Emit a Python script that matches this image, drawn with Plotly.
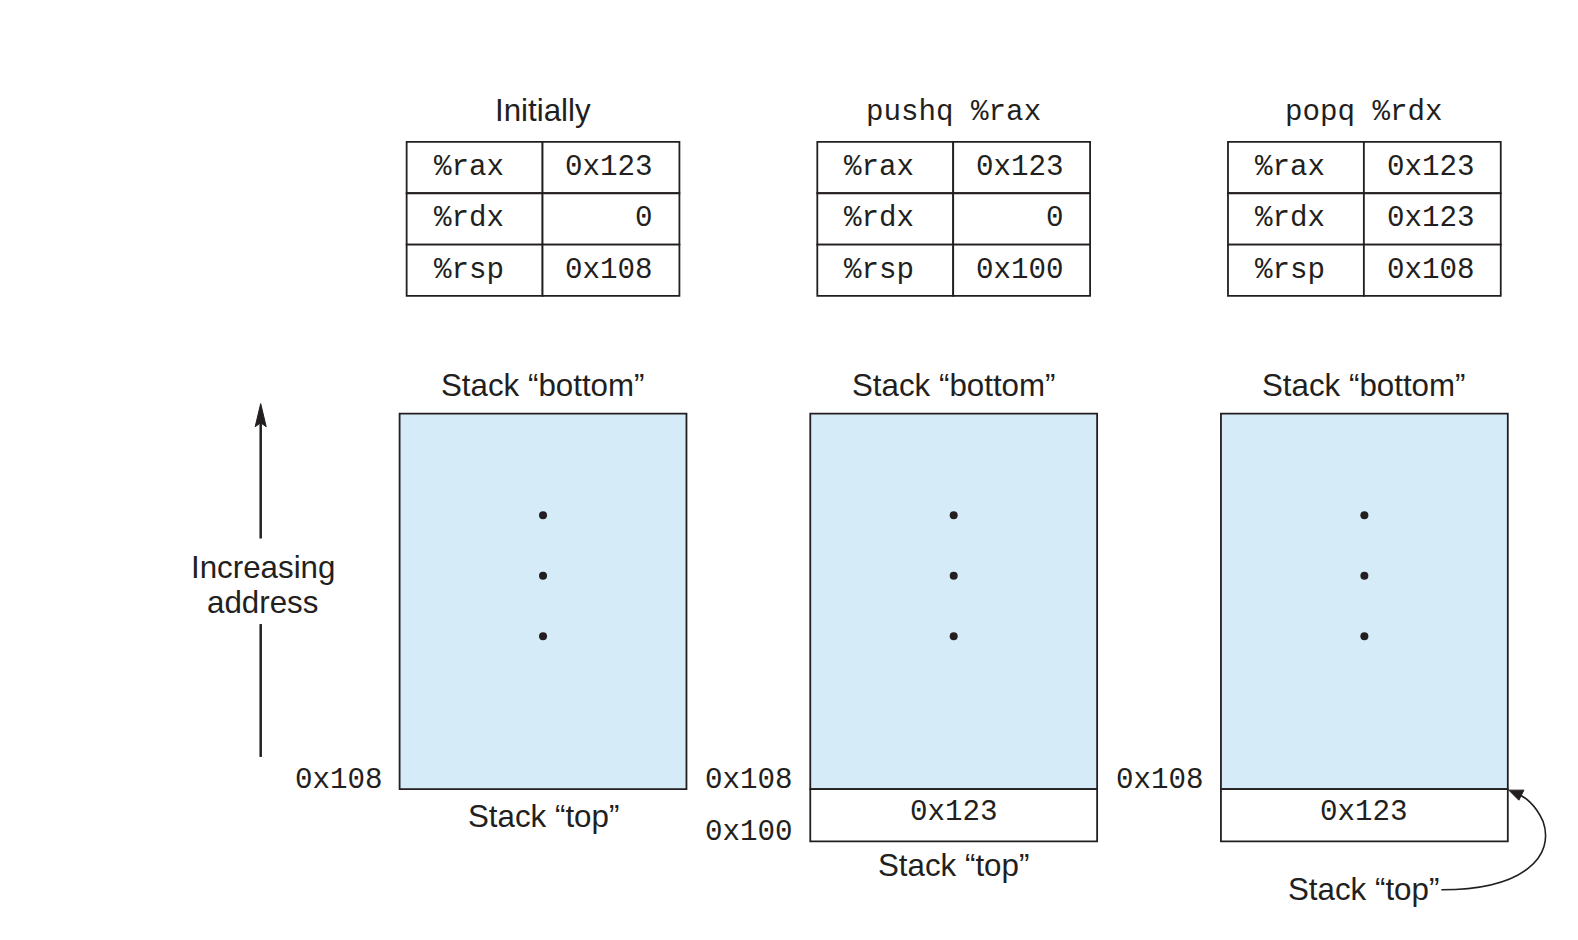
import plotly.graph_objects as go

# ---- data ----
panel_titles = ["Initially", "pushq %rax", "popq %rdx"]
title_is_code = [False, True, True]
registers = ["%rax", "%rdx", "%rsp"]
reg_values = [
    ["0x123", "0", "0x108"],
    ["0x123", "0", "0x100"],
    ["0x123", "0x123", "0x108"],
]
stack_cells = [[], ["0x123"], ["0x123"]]
stack_addrs = [["0x108"], ["0x108", "0x100"], ["0x108"]]
axis_label = ["Increasing", "address"]
bottom_label = "Stack \u201cbottom\u201d"
top_label = "Stack \u201ctop\u201d"

# ---- layout constants ----
PAD = 8
S = 0.9935  # rendering scale compensation
W, H = 1578 - 2 * PAD, 940 - 2 * PAD
INK = "#231f20"
FILL = "#d5ebf8"
SANS = "Liberation Sans, Arial, Helvetica, sans-serif"
MONO = "Liberation Mono, Courier New, monospace"
panel_x0 = [397, 805, 1213]
BOX_W = 285
BOX_TOP, BOX_BOT = 411, 784
CELL_H = 52
TAB_DX, TAB_W, TAB_COL = 7, 271, 135
TAB_TOP, ROW_H = 141, 51
SS = 31.3   # sans size
MS = 29.2   # mono size

fig = go.Figure()
shapes, annos = [], []

def txt(x, y, s, size=SS, font=SANS, xa="center"):
    annos.append(dict(x=x, y=y, text=s, showarrow=False, xanchor=xa, yanchor="middle",
                      font=dict(family=font, size=size, color=INK)))

def rect(x0, y0, x1, y1, fill="white", layer="above"):
    shapes.append(dict(type="rect", x0=x0, y0=y0, x1=x1, y1=y1, fillcolor=fill,
                       line=dict(color=INK, width=1.8), layer=layer))

for p in range(3):
    bx = panel_x0[p]
    cx = bx + BOX_W / 2
    tx = bx + TAB_DX
    if title_is_code[p]:
        txt(cx, 112, panel_titles[p], size=MS, font=MONO)
    else:
        txt(cx, 110, panel_titles[p])
    for r, reg in enumerate(registers):
        y0 = TAB_TOP + r * ROW_H
        rect(tx, y0, tx + TAB_COL, y0 + ROW_H)
        rect(tx + TAB_COL, y0, tx + TAB_W, y0 + ROW_H)
        txt(tx + 25, y0 + ROW_H / 2, reg, size=MS, font=MONO, xa="left")
        txt(tx + TAB_W - 24, y0 + ROW_H / 2, reg_values[p][r], size=MS, font=MONO, xa="right")
    txt(cx, 383, bottom_label)
    rect(bx, BOX_TOP, bx + BOX_W, BOX_BOT, fill=FILL, layer="below")
    for i, c in enumerate(stack_cells[p]):
        y0 = BOX_BOT + i * CELL_H
        rect(bx, y0, bx + BOX_W, y0 + CELL_H)
        txt(cx, y0 + CELL_H / 2 - 3, c, size=MS, font=MONO)
    for i, a in enumerate(stack_addrs[p]):
        txt(bx - 15, BOX_BOT - 9 + i * CELL_H, a, size=MS, font=MONO, xa="right")
    fig.add_trace(go.Scatter(x=[cx] * 3, y=[512, 572, 632], mode="markers",
                             marker=dict(size=8, color=INK), hoverinfo="skip", showlegend=False))

txt(panel_x0[0] + BOX_W / 2, 811, top_label)
txt(panel_x0[1] + BOX_W / 2, 860, top_label)
txt(1355, 884, top_label)

# curved arrow for third panel
shapes.append(dict(type="path",
                   path="M 1432 884 C 1515 884, 1545 850, 1533 816 C 1526 800, 1515 791, 1506 788",
                   line=dict(color=INK, width=1.6), layer="above"))
shapes.append(dict(type="path", path="M 1499 785 L 1514 785 L 1509 795 Z",
                   fillcolor=INK, line=dict(color=INK, width=1), layer="above"))

# Increasing address arrow
shapes.append(dict(type="line", x0=259, y0=752, x1=259, y1=620, line=dict(color=INK, width=2.5)))
shapes.append(dict(type="line", x0=259, y0=535, x1=259, y1=418, line=dict(color=INK, width=2.5)))
shapes.append(dict(type="path", path="M 259 401 L 253.5 424 L 259 420 L 264.5 424 Z",
                   fillcolor=INK, line=dict(color=INK, width=1)))
txt(261, 564, axis_label[0])
txt(261, 599, axis_label[1])

fig.update_layout(
    width=W, height=H, margin=dict(l=0, r=0, t=0, b=0),
    paper_bgcolor="white", plot_bgcolor="white",
    xaxis=dict(range=[PAD * S, (PAD + W) * S], visible=False, fixedrange=True),
    yaxis=dict(range=[(PAD + H) * S, PAD * S], visible=False, fixedrange=True),
    shapes=shapes, annotations=annos, showlegend=False,
)
fig.write_html("out.html")
